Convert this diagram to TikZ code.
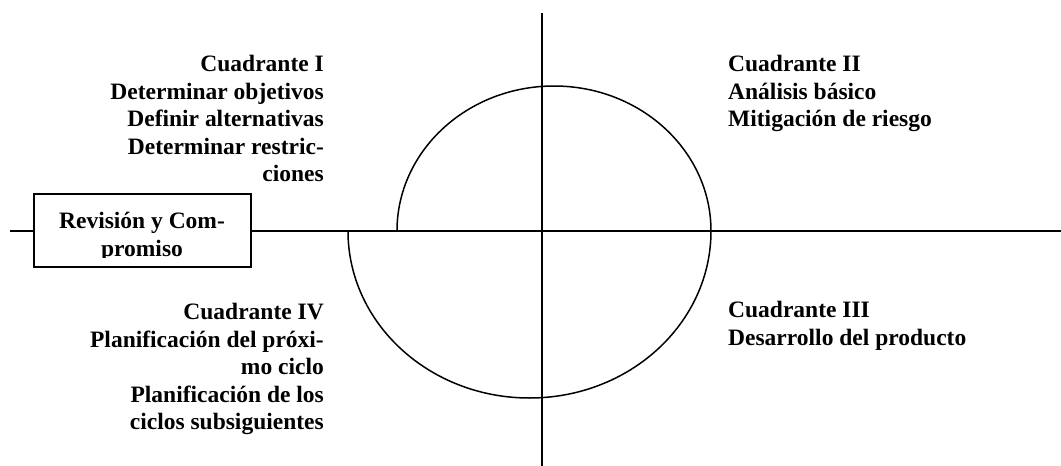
\documentclass[tikz,border=0pt]{standalone}
\usepackage{fontspec}
\setmainfont{Liberation Serif}
\tikzset{
  caxis/.style={line width=2.2pt},
  carc/.style={line width=1.5pt},
  ctext/.style={font=\fontsize{23.5}{27.5}\selectfont\bfseries,inner sep=0pt},
  cbox/.style={draw,line width=2.4pt,fill=white,minimum width=217pt,minimum height=73pt,inner sep=0pt},
}
\begin{document}
\begin{tikzpicture}[x=1pt,y=-1pt]
\useasboundingbox (0,0) rectangle (1061,466);
% ---- the two axes
\coordinate (west) at (10,231);
\coordinate (east) at (1061,231);
\coordinate (north) at (542,13);
\coordinate (south) at (542,466);
\draw[caxis] (west) -- (east);
\draw[caxis] (north) -- (south);
% ---- the spiral: upper half, then the wider lower half
\draw[carc] (397,231) arc[start angle=180,end angle=0,x radius=157pt,y radius=145pt];
\draw[carc] (348,231) arc[start angle=180,end angle=360,x radius=181.5pt,y radius=167pt];
% ---- quadrant texts
\node[ctext,align=right,anchor=north east] (q1) at (324,55)
  {Cuadrante I\\Determinar objetivos\\Definir alternativas\\Determinar restric-\\ciones};
\node[ctext,align=left,anchor=north west] (q2) at (728,55)
  {Cuadrante II\\Análisis básico\\Mitigación de riesgo};
\node[ctext,align=left,anchor=north west] (q3) at (728,301)
  {Cuadrante III\\Desarrollo del producto};
\node[ctext,align=right,anchor=north east] (q4) at (324,303)
  {Cuadrante IV\\Planificación del próxi-\\mo ciclo\\Planificación de los\\ciclos subsiguientes};
% ---- review box on the axis, its text cut at the bottom
\node[cbox] (rev) at (142.5,230.5) {};
\begin{scope}
  \clip (rev.north west) rectangle ([yshift=11pt]rev.south east);
  \node[ctext,align=center,anchor=north] (revtext) at (142,212) {Revisión y Com-\\promiso};
\end{scope}
\end{tikzpicture}
\end{document}
